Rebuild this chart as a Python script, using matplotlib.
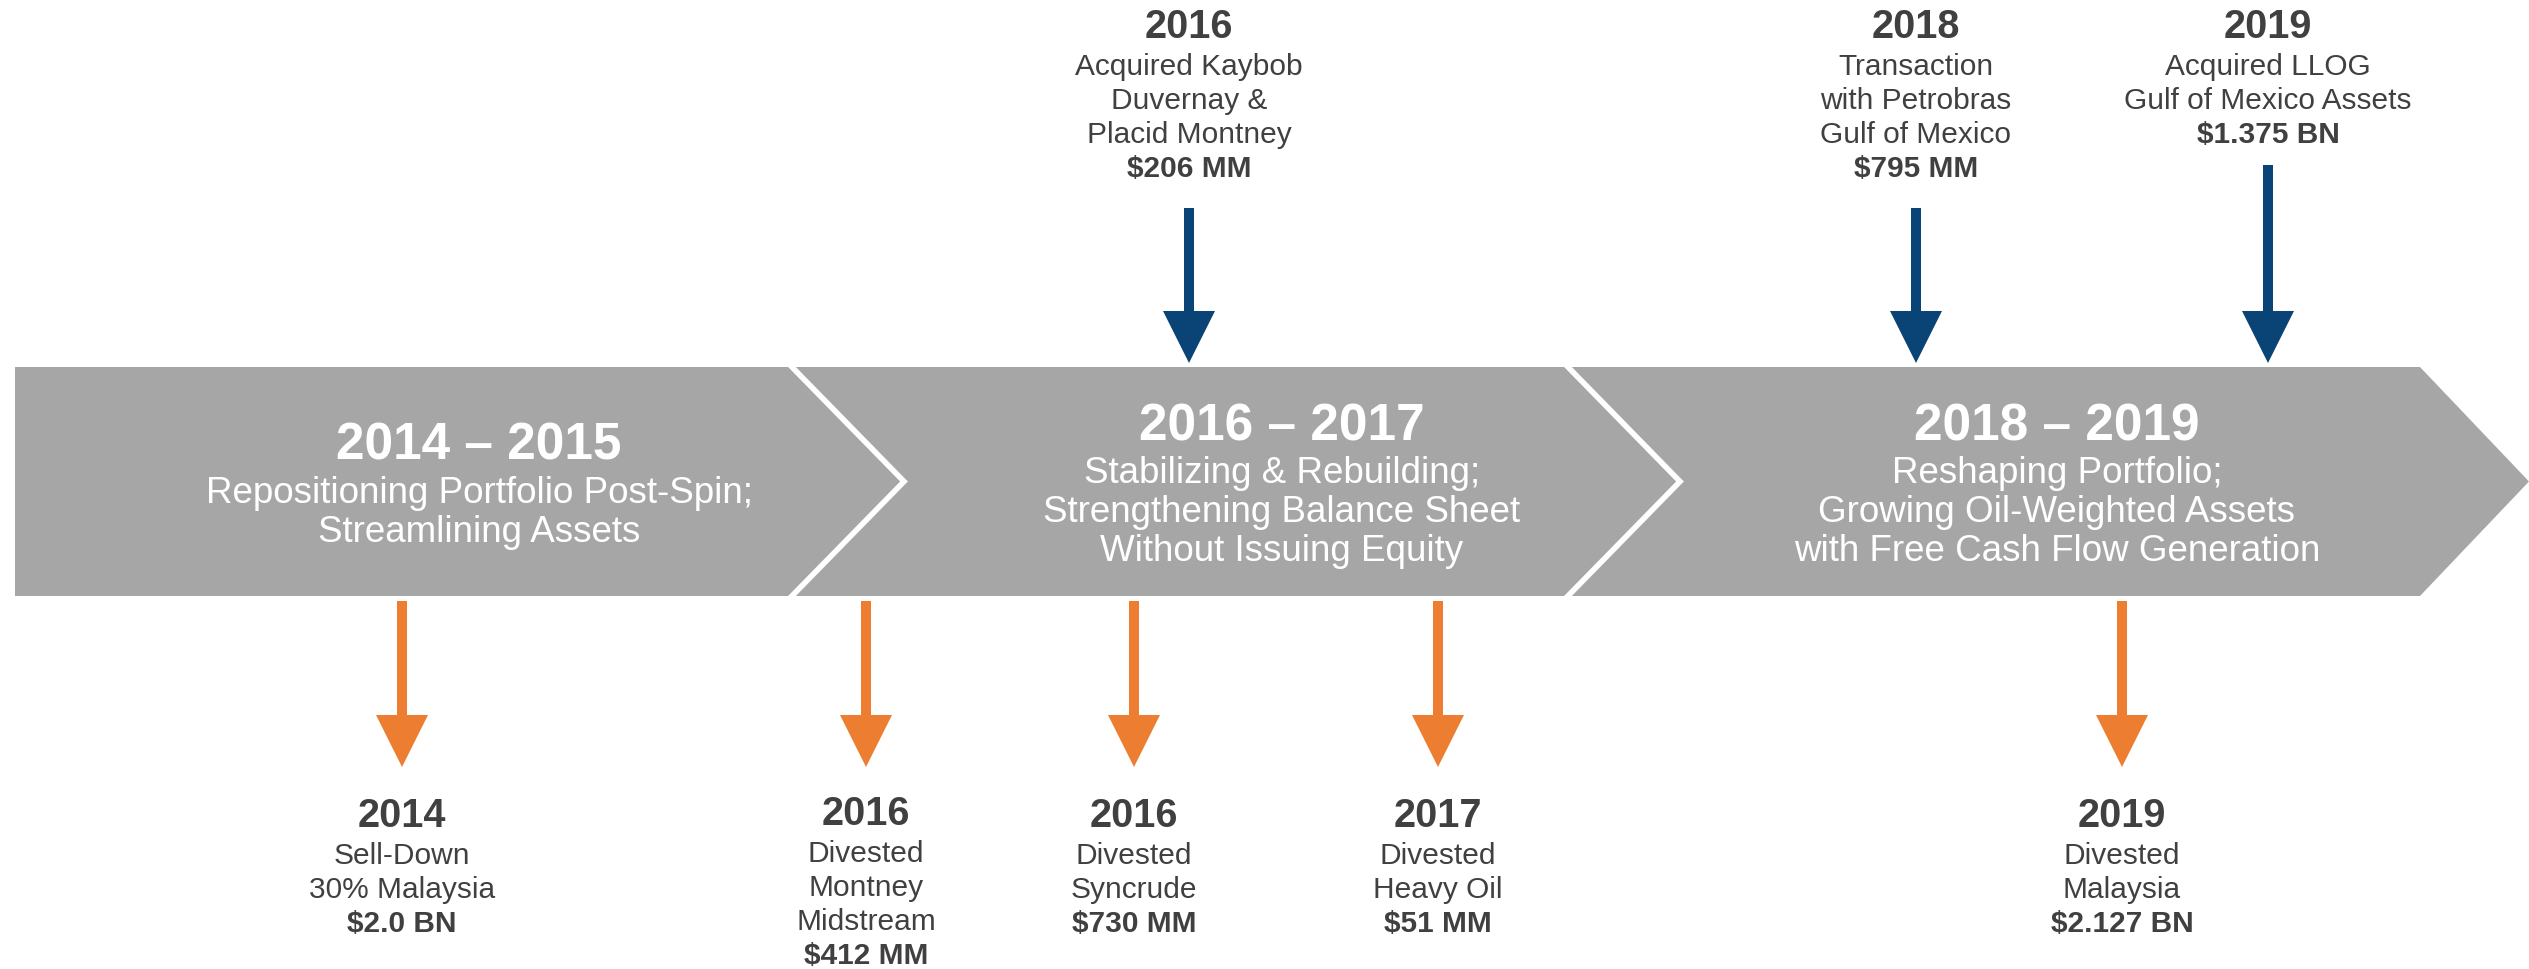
import matplotlib.pyplot as plt
from matplotlib.patches import Polygon, FancyArrow

plt.rcParams['font.family'] = ['Liberation Sans', 'DejaVu Sans']

W, H = 2529, 970

# phases of the timeline band
phase_titles = ["2014 \u2013 2015", "2016 \u2013 2017", "2018 \u2013 2019"]
phase_lines = [
    ["Repositioning Portfolio Post-Spin;", "Streamlining Assets"],
    ["Stabilizing & Rebuilding;", "Strengthening Balance Sheet", "Without Issuing Equity"],
    ["Reshaping Portfolio;", "Growing Oil-Weighted Assets", "with Free Cash Flow Generation"],
]

# acquisitions (above the band)
acq_years = ["2016", "2018", "2019"]
acq_desc = [
    ["Acquired Kaybob", "Duvernay &", "Placid Montney"],
    ["Transaction", "with Petrobras", "Gulf of Mexico"],
    ["Acquired LLOG", "Gulf of Mexico Assets"],
]
acq_value = ["$206 MM", "$795 MM", "$1.375 BN"]

# divestitures (below the band)
div_years = ["2014", "2016", "2016", "2017", "2019"]
div_desc = [
    ["Sell-Down", "30% Malaysia"],
    ["Divested", "Montney", "Midstream"],
    ["Divested", "Syncrude"],
    ["Divested", "Heavy Oil"],
    ["Divested", "Malaysia"],
]
div_value = ["$2.0 BN", "$412 MM", "$730 MM", "$51 MM", "$2.127 BN"]

# layout (pixel coordinates)
band_top, band_bot, band_left = 368, 597, 15
band_mid = (band_top + band_bot) / 2
sep_x = [790, 1566]
chev = 114
end_x = 2420
phase_cx = [479, 1282, 2057]

acq_x = [1189, 1916, 2268]
acq_shaft_top = [209, 209, 166]
div_x = [402, 866, 1134, 1438, 2122]
div_year_base = [827, 825, 827, 827, 827]

GRAY = "#A6A6A6"
TEXT = "#404040"
BLUE = "#0A4477"
ORANGE = "#ED7D31"

fig = plt.figure(figsize=(W / 100, H / 100), dpi=100)
ax = fig.add_axes([0, 0, 1, 1])
ax.set_xlim(0, W)
ax.set_ylim(H, 0)
ax.axis("off")

# band
band = Polygon([(band_left, band_top), (end_x, band_top), (W, band_mid),
                (end_x, band_bot), (band_left, band_bot)],
               closed=True, facecolor=GRAY, edgecolor="none")
ax.add_patch(band)
for sx in sep_x:
    ax.plot([sx, sx + chev, sx], [band_top - 2, band_mid, band_bot + 2],
            color="white", lw=4, solid_joinstyle="miter")

# phase texts
for cx, title, lines in zip(phase_cx, phase_titles, phase_lines):
    block = 37 + 43 + (len(lines) - 1) * 39
    base = band_mid - block / 2 + 37
    ax.text(cx, base, title, color="white", fontsize=37, fontweight="bold",
            ha="center", va="baseline")
    for i, ln in enumerate(lines):
        ax.text(cx, base + 43 + i * 39, ln, color="white", fontsize=26.5,
                ha="center", va="baseline")


def arrow(x, y0, y1, color):
    ax.add_patch(FancyArrow(x, y0, 0, y1 - y0, width=10, head_width=52,
                            head_length=52, length_includes_head=True,
                            color=color, lw=0))


def label(x, ybase, year, desc, value):
    ax.text(x, ybase, year, color=TEXT, fontsize=28.5, fontweight="bold",
            ha="center", va="baseline")
    rows = desc + [value]
    for i, ln in enumerate(rows):
        ax.text(x, ybase + 37 + i * 34, ln, color=TEXT, fontsize=21.5,
                fontweight="bold" if i == len(rows) - 1 else "normal",
                ha="center", va="baseline")


for x, st, yr, d, v in zip(acq_x, acq_shaft_top, acq_years, acq_desc, acq_value):
    arrow(x, st, 364, BLUE)
    label(x, 38, yr, d, v)

for x, yb, yr, d, v in zip(div_x, div_year_base, div_years, div_desc, div_value):
    arrow(x, 602, 768, ORANGE)
    label(x, yb, yr, d, v)

fig.savefig("out.png", dpi=100, facecolor="white")
